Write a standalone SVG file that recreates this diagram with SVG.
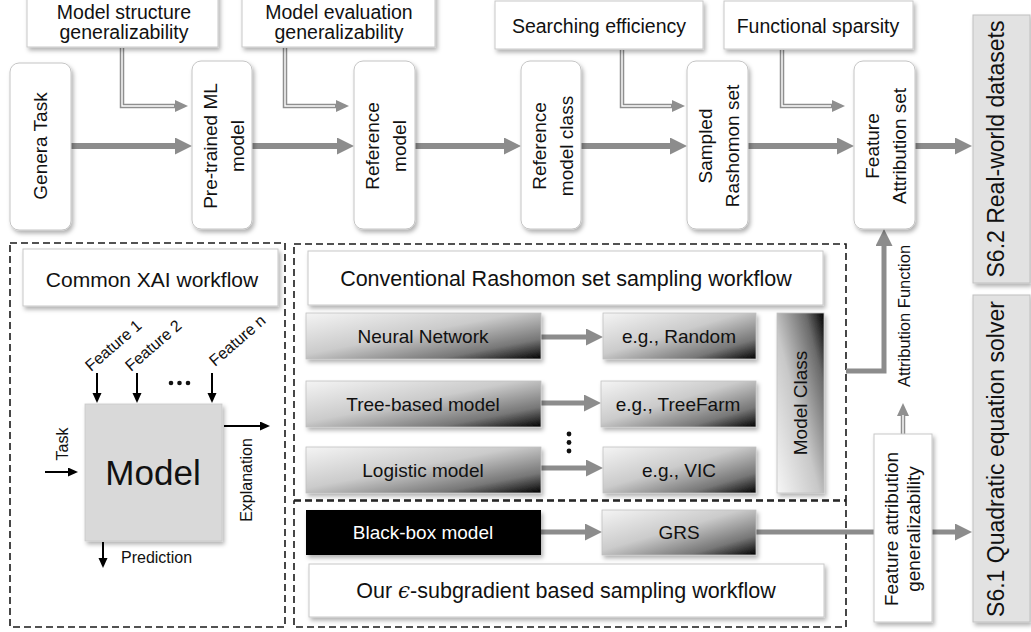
<svg xmlns="http://www.w3.org/2000/svg" width="1031" height="632" viewBox="0 0 1031 632">
<style>
text{font-family:"Liberation Sans",Arial,sans-serif;fill:#111}
.lbl{font-size:19.5px}
.nt{font-size:19px}
.bt{font-size:19px}
.big{font-size:21.5px}
.s6t{font-size:23px}
.sm{font-size:16px}
.nd{fill:#fff;stroke:#c4c4c4;stroke-width:1;filter:url(#sh)}
.bx{fill:#fff;stroke:#c8c8c8;stroke-width:1;filter:url(#sh)}
.gr{fill:url(#gb);stroke:#c0c0c0;stroke-width:0.8;filter:url(#sh)}
.s6{fill:#e2e2e2;stroke:#c0c0c0;stroke-width:1;filter:url(#sh)}
.dash{fill:none;stroke:#1a1a1a;stroke-width:1.6;stroke-dasharray:7 4}
.ga{fill:none;stroke:#8c8c8c;stroke-width:6;marker-end:url(#ah)}
.gm{fill:none;stroke:#8c8c8c;stroke-width:5;marker-end:url(#ah)}
.dbo{fill:none;stroke:#8f8f8f;stroke-width:4.5;marker-end:url(#ahd)}
.dbi{fill:none;stroke:#fff;stroke-width:1.4}
.ba{fill:none;stroke:#000;stroke-width:2;marker-end:url(#ab)}
</style>
<defs>
<filter id="sh" x="-20%" y="-20%" width="150%" height="150%">
<feDropShadow dx="2" dy="3" stdDeviation="2" flood-color="#000" flood-opacity="0.3"/>
</filter>
<linearGradient id="gb" x1="0" y1="0" x2="1" y2="1">
<stop offset="0" stop-color="#f4f4f4"/>
<stop offset="0.45" stop-color="#cbcbcb"/>
<stop offset="0.78" stop-color="#777"/>
<stop offset="1" stop-color="#000"/>
</linearGradient>
<linearGradient id="gmc" x1="0" y1="1" x2="1" y2="0">
<stop offset="0" stop-color="#f6f6f6"/>
<stop offset="0.45" stop-color="#c8c8c8"/>
<stop offset="0.8" stop-color="#6a6a6a"/>
<stop offset="1" stop-color="#000"/>
</linearGradient>
<marker id="ah" markerUnits="userSpaceOnUse" markerWidth="18" markerHeight="18" refX="7" refY="8.5" orient="auto">
<path d="M0,0 L17,8.5 L0,17 z" fill="#8c8c8c"/>
</marker>
<marker id="ahd" markerUnits="userSpaceOnUse" markerWidth="14" markerHeight="13" refX="0" refY="6" orient="auto">
<path d="M0,0 L13,6 L0,12 z" fill="#8f8f8f"/>
</marker>
<marker id="ab" markerUnits="userSpaceOnUse" markerWidth="10" markerHeight="10" refX="4" refY="4.5" orient="auto">
<path d="M0,0 L10,4.5 L0,9 z" fill="#000"/>
</marker>
</defs>

<!-- dashed regions -->
<g id="regions">
<rect class="dash" x="10" y="243" width="275" height="384"/>
<rect class="dash" x="294" y="244" width="552" height="256"/>
<rect class="dash" x="294" y="501" width="552" height="126"/>
</g>

<g id="connectors">
<!-- main flow -->
<path class="ga" d="M71,146 H182"/>
<path class="ga" d="M252,146 H344"/>
<path class="ga" d="M415,146 H511"/>
<path class="ga" d="M581,146 H677"/>
<path class="ga" d="M748,146 H844"/>
<path class="ga" d="M915,146 H962"/>
<!-- double-line arrows -->
<path class="dbo" d="M122,48 V106 H175"/>
<path class="dbi" d="M122,48 V106 H174"/>
<path class="dbo" d="M285,48 V106 H336"/>
<path class="dbi" d="M285,48 V106 H335"/>
<path class="dbo" d="M622,50 V106 H672"/>
<path class="dbi" d="M622,50 V106 H671"/>
<path class="dbo" d="M782,50 V106 H832"/>
<path class="dbi" d="M782,50 V106 H831"/>
<path class="dbo" d="M903,434 V416"/>
<path class="dbi" d="M903,434 V415"/>
<!-- model class rows -->
<path class="gm" d="M541,337 H593"/>
<path class="gm" d="M541,403 H591"/>
<path class="gm" d="M541,468 H593"/>
<path class="gm" d="M541,532 H592"/>
<!-- attribution function -->
<path class="gm" d="M846,371 H884 V239"/>
<!-- GRS to S6.1 -->
<path class="gm" d="M756,532 H962"/>
<!-- XAI arrows -->
<path class="ba" d="M97,373 V397"/>
<path class="ba" d="M137,373 V397"/>
<path class="ba" d="M212,373 V397"/>
<path class="ba" d="M45,472 H72"/>
<path class="ba" d="M224,426 H264"/>
<path class="ba" d="M103,542 V562"/>
</g>

<!-- top criteria boxes -->
<g id="crit-structure">
<rect class="bx" x="27" y="-10" width="191" height="57"/>
<text class="lbl" text-anchor="middle"><tspan x="124" y="19">Model structure</tspan><tspan x="124" y="39">generalizability</tspan></text>
</g>
<g id="crit-evaluation">
<rect class="bx" x="242" y="-10" width="193" height="57"/>
<text class="lbl" text-anchor="middle"><tspan x="339" y="19">Model evaluation</tspan><tspan x="339" y="39">generalizability</tspan></text>
</g>
<g id="crit-search">
<rect class="bx" x="495" y="1" width="208" height="48"/>
<text class="lbl" x="599" y="33" text-anchor="middle">Searching efficiency</text>
</g>
<g id="crit-sparsity">
<rect class="bx" x="724" y="1" width="189" height="48"/>
<text class="lbl" x="818" y="33" text-anchor="middle">Functional sparsity</text>
</g>

<!-- main flow nodes -->
<g id="genera-task">
<rect class="nd" x="10" y="63" width="61" height="167" rx="9"/>
<text class="nt" transform="translate(40,146) rotate(-90)" text-anchor="middle" y="7">Genera Task</text>
</g>
<g id="pretrained">
<rect class="nd" x="192" y="61" width="60" height="168" rx="9"/>
<text class="nt" transform="translate(222,146) rotate(-90)" text-anchor="middle"><tspan x="0" y="-5">Pre-trained ML</tspan><tspan x="0" y="22">model</tspan></text>
</g>
<g id="reference-model">
<rect class="nd" x="354" y="61" width="61" height="168" rx="9"/>
<text class="nt" transform="translate(384,146) rotate(-90)" text-anchor="middle"><tspan x="0" y="-5">Reference</tspan><tspan x="0" y="22">model</tspan></text>
</g>
<g id="reference-class">
<rect class="nd" x="521" y="61" width="60" height="168" rx="9"/>
<text class="nt" transform="translate(551,146) rotate(-90)" text-anchor="middle"><tspan x="0" y="-5">Reference</tspan><tspan x="0" y="22">model class</tspan></text>
</g>
<g id="sampled-rashomon">
<rect class="nd" x="687" y="61" width="61" height="168" rx="9"/>
<text class="nt" transform="translate(717,146) rotate(-90)" text-anchor="middle"><tspan x="0" y="-5">Sampled</tspan><tspan x="0" y="22">Rashomon set</tspan></text>
</g>
<g id="feature-attribution-set">
<rect class="nd" x="854" y="61" width="61" height="168" rx="9"/>
<text class="nt" transform="translate(884,146) rotate(-90)" text-anchor="middle"><tspan x="0" y="-5">Feature</tspan><tspan x="0" y="22">Attribution set</tspan></text>
</g>

<!-- S6 boxes -->
<g id="s62">
<rect class="s6" x="973" y="15" width="57" height="268"/>
<text class="s6t" transform="translate(1001,149) rotate(-90)" text-anchor="middle" y="3">S6.2 Real-world datasets</text>
</g>
<g id="s61">
<rect class="s6" x="973" y="295" width="57" height="327"/>
<text class="s6t" transform="translate(1001,459) rotate(-90)" text-anchor="middle" y="3">S6.1 Quadratic equation solver</text>
</g>

<!-- Common XAI workflow -->
<g id="xai-title">
<rect class="bx" x="23" y="249" width="255" height="57"/>
<text class="big" x="152" y="287" text-anchor="middle" style="font-size:21px">Common XAI workflow</text>
</g>
<g id="xai-model">
<rect x="85" y="404" width="137" height="137" fill="#d9d9d9" stroke="#c8c8c8" stroke-width="0.8" filter="url(#sh)"/>
<text x="153" y="485" text-anchor="middle" style="font-size:35px">Model</text>
</g>
<g id="xai-labels">
<text class="sm" transform="translate(91,372) rotate(-41)">Feature 1</text>
<text class="sm" transform="translate(131,372) rotate(-41)">Feature 2</text>
<text class="sm" transform="translate(215,367) rotate(-41)">Feature n</text>
<circle cx="171" cy="383" r="2.3" fill="#111"/>
<circle cx="179.5" cy="383" r="2.3" fill="#111"/>
<circle cx="188" cy="383" r="2.3" fill="#111"/>
<text class="sm" transform="translate(68,444) rotate(-90)" text-anchor="middle">Task</text>
<text class="sm" transform="translate(252,480) rotate(-90)" text-anchor="middle">Explanation</text>
<text class="sm" x="121" y="563">Prediction</text>
</g>

<!-- Conventional workflow -->
<g id="conv-title">
<rect class="bx" x="308" y="251" width="515" height="54"/>
<text class="big" x="566" y="286" text-anchor="middle">Conventional Rashomon set sampling workflow</text>
</g>
<g id="neural-network">
<rect class="gr" x="306" y="313" width="235" height="46"/>
<text class="bt" x="423" y="343" text-anchor="middle">Neural Network</text>
</g>
<g id="random">
<rect class="gr" x="603" y="313" width="153" height="46"/>
<text class="bt" x="679" y="343" text-anchor="middle">e.g., Random</text>
</g>
<g id="tree-based">
<rect class="gr" x="306" y="381" width="235" height="46"/>
<text class="bt" x="423" y="411" text-anchor="middle">Tree-based model</text>
</g>
<g id="treefarm">
<rect class="gr" x="601" y="381" width="155" height="46"/>
<text class="bt" x="678" y="411" text-anchor="middle">e.g., TreeFarm</text>
</g>
<g id="logistic">
<rect class="gr" x="306" y="447" width="235" height="46"/>
<text class="bt" x="423" y="477" text-anchor="middle">Logistic model</text>
</g>
<g id="vic">
<rect class="gr" x="603" y="447" width="153" height="46"/>
<text class="bt" x="679" y="477" text-anchor="middle">e.g., VIC</text>
</g>
<g id="vdots">
<circle cx="569" cy="434" r="2.4" fill="#111"/>
<circle cx="569" cy="442.5" r="2.4" fill="#111"/>
<circle cx="569" cy="451" r="2.4" fill="#111"/>
</g>
<g id="model-class">
<rect x="777" y="313" width="47" height="180" fill="url(#gmc)" stroke="#c0c0c0" stroke-width="0.8" filter="url(#sh)"/>
<text class="bt" transform="translate(801,403) rotate(-90)" text-anchor="middle" y="6">Model Class</text>
</g>

<!-- Our workflow -->
<g id="black-box">
<rect x="306" y="510" width="235" height="45" fill="#000" filter="url(#sh)"/>
<text class="bt" x="423" y="539" text-anchor="middle" style="fill:#fff">Black-box model</text>
</g>
<g id="grs">
<rect class="gr" x="602" y="510" width="154" height="45"/>
<text class="bt" x="679" y="539" text-anchor="middle">GRS</text>
</g>
<g id="our-title">
<rect class="bx" x="309" y="564" width="515" height="53"/>
<text class="big" x="566" y="598" text-anchor="middle">Our <tspan style="font-family:'DejaVu Serif',serif;font-style:italic">ϵ</tspan>-subgradient based sampling workflow</text>
</g>

<!-- Attribution side -->
<g id="attribution-function-label">
<text transform="translate(904,316) rotate(-90)" text-anchor="middle" y="6" style="font-size:16.5px">Attribution Function</text>
</g>
<g id="fa-generalizability">
<rect class="bx" x="874" y="434" width="58" height="188"/>
<text class="bt" transform="translate(903,529) rotate(-90)" text-anchor="middle"><tspan x="0" y="-5">Feature attribution</tspan><tspan x="0" y="17">generalizability</tspan></text>
</g>
</svg>
